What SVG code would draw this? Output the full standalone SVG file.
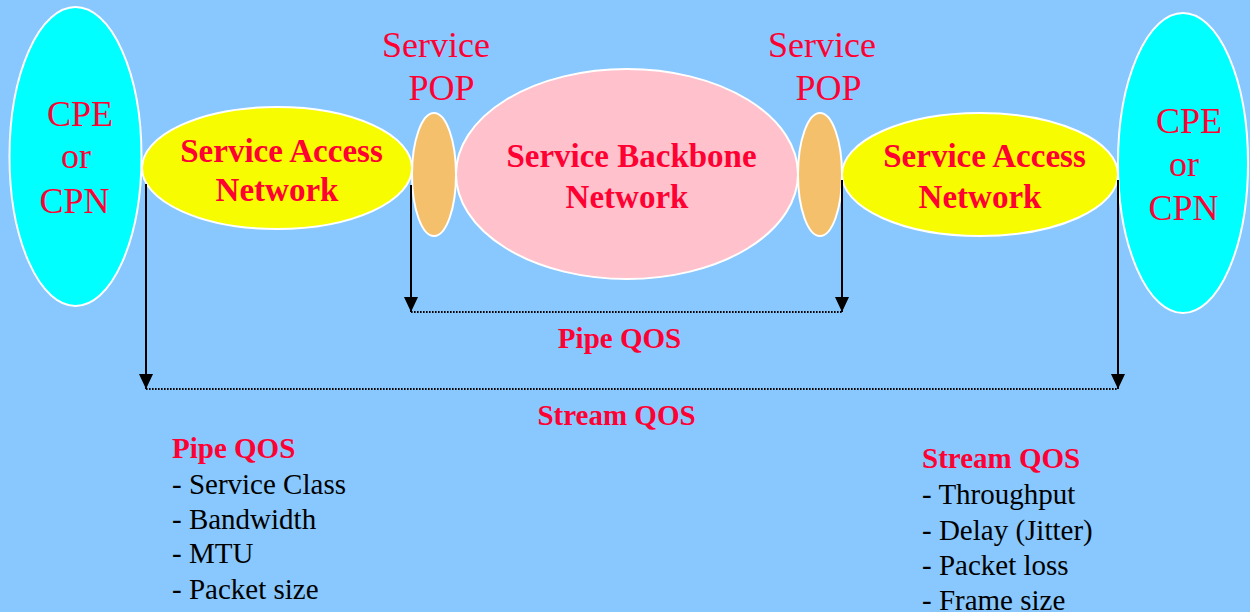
<svg xmlns="http://www.w3.org/2000/svg" width="1250" height="612" viewBox="0 0 1250 612">
<defs>
<style>
.shape{stroke:#FFFFFF;stroke-width:2}
.cpe{fill:#00FFFF}
.san{fill:#F8FC00}
.pop{fill:#F4C06C}
.bb{fill:#FFC2CD}
.red{fill:#FF0033;font-family:"Liberation Serif","Times New Roman",serif}
.b{font-weight:bold}
.big{font-size:36px}
.mid{font-size:33px}
.lbl{font-size:29px}
.blk{fill:#000000;font-family:"Liberation Serif","Times New Roman",serif;font-size:29px}
.arr{stroke:#000000;stroke-width:2;fill:none}
.dot{stroke:#000000;stroke-width:2;fill:none;stroke-dasharray:1.6 1.4}
</style>
<marker id="ah" viewBox="0 0 15 14" refX="15" refY="7" markerWidth="15" markerHeight="14" markerUnits="userSpaceOnUse" orient="auto">
<path d="M0,0 L15,7 L0,14 Z" fill="#000000"/>
</marker>
</defs>
<rect x="0" y="0" width="1250" height="612" fill="#88C8FE"/>

<g id="cpe-left">
<ellipse class="shape cpe" cx="75.5" cy="156.5" rx="66" ry="149.5"/>
<text class="red big" x="80" y="126" text-anchor="middle">CPE</text>
<text class="red big" x="76" y="168" text-anchor="middle">or</text>
<text class="red big" x="74.5" y="213" text-anchor="middle">CPN</text>
</g>

<g id="san-left">
<ellipse class="shape san" cx="277" cy="168" rx="135" ry="61"/>
<text class="red b mid" x="281.5" y="162" text-anchor="middle">Service Access</text>
<text class="red b mid" x="277" y="201" text-anchor="middle">Network</text>
</g>

<g id="pop-left">
<ellipse class="shape pop" cx="434" cy="174.5" rx="22" ry="61.5"/>
<text class="red big" x="436" y="57" text-anchor="middle">Service</text>
<text class="red big" x="441.5" y="100" text-anchor="middle">POP</text>
</g>

<g id="backbone">
<ellipse class="shape bb" cx="627" cy="174" rx="171" ry="105"/>
<text class="red b mid" x="631.5" y="167" text-anchor="middle">Service Backbone</text>
<text class="red b mid" x="627" y="208" text-anchor="middle">Network</text>
</g>

<g id="pop-right">
<ellipse class="shape pop" cx="820" cy="174.5" rx="22" ry="61.5"/>
<text class="red big" x="822" y="57" text-anchor="middle">Service</text>
<text class="red big" x="828.5" y="100" text-anchor="middle">POP</text>
</g>

<g id="san-right">
<ellipse class="shape san" cx="980" cy="174.5" rx="138" ry="61.5"/>
<text class="red b mid" x="984.5" y="167" text-anchor="middle">Service Access</text>
<text class="red b mid" x="980" y="208" text-anchor="middle">Network</text>
</g>

<g id="cpe-right">
<ellipse class="shape cpe" cx="1183" cy="163" rx="65" ry="150"/>
<text class="red big" x="1189" y="133" text-anchor="middle">CPE</text>
<text class="red big" x="1184" y="176" text-anchor="middle">or</text>
<text class="red big" x="1183.5" y="220" text-anchor="middle">CPN</text>
</g>

<g id="connectors">
<line class="arr" x1="411" y1="185" x2="411" y2="312" marker-end="url(#ah)"/>
<line class="arr" x1="842" y1="180" x2="842" y2="312" marker-end="url(#ah)"/>
<line class="dot" x1="411" y1="312" x2="842" y2="312"/>
<line class="arr" x1="146" y1="184" x2="146" y2="389" marker-end="url(#ah)"/>
<line class="arr" x1="1118" y1="180" x2="1118" y2="389" marker-end="url(#ah)"/>
<line class="dot" x1="146" y1="389" x2="1118" y2="389"/>
</g>

<g id="labels">
<text class="red b lbl" x="619.5" y="348" text-anchor="middle">Pipe QOS</text>
<text class="red b lbl" x="616.5" y="425" text-anchor="middle">Stream QOS</text>
</g>

<g id="pipe-list">
<text class="red b lbl" x="172" y="458">Pipe QOS</text>
<text class="blk" x="172" y="494">- Service Class</text>
<text class="blk" x="172" y="529">- Bandwidth</text>
<text class="blk" x="172" y="563">- MTU</text>
<text class="blk" x="172" y="599">- Packet size</text>
</g>

<g id="stream-list">
<text class="red b lbl" x="922" y="468">Stream QOS</text>
<text class="blk" x="922" y="504">- Throughput</text>
<text class="blk" x="922" y="540">- Delay (Jitter)</text>
<text class="blk" x="922" y="575">- Packet loss</text>
<text class="blk" x="922" y="610">- Frame size</text>
</g>
</svg>
